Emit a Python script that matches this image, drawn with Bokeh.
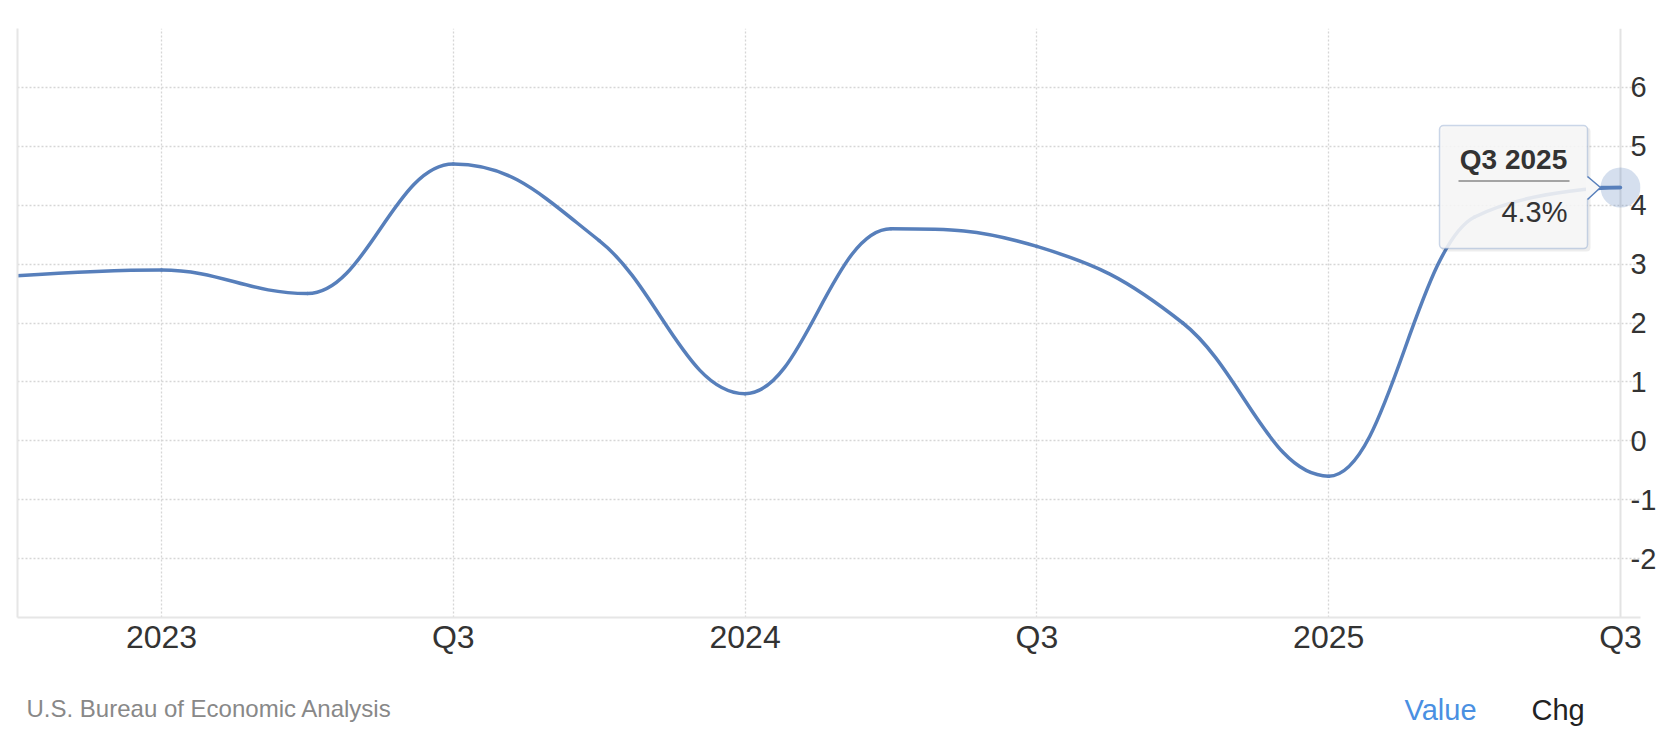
from bokeh.plotting import figure
from bokeh.layouts import column
from bokeh.models import (FixedTicker, LinearAxis, Range1d, Span, Label,
                          BoxAnnotation)
from bokeh.core.properties import value
from bokeh.embed import file_html
from bokeh.resources import INLINE

# ---------------- data ----------------
quarters = ["Q4 2022", "Q1 2023", "Q2 2023", "Q3 2023", "Q4 2023", "Q1 2024",
            "Q2 2024", "Q3 2024", "Q4 2024", "Q1 2025", "Q2 2025", "Q3 2025"]
gdp_growth = [2.8, 2.9, 2.5, 4.7, 3.4, 0.8, 3.6, 3.3, 2.0, -0.6, 3.8, 4.3]
x_tick_pos = [1, 3, 5, 7, 9, 11]
x_tick_labels = ["2023", "Q3", "2024", "Q3", "2025", "Q3"]
y_ticks = [-2, -1, 0, 1, 2, 3, 4, 5, 6]
y_grid_ticks = [-2, -1, 0, 1, 2, 3, 4, 5, 6, 7]
source_text = "U.S. Bureau of Economic Analysis"
footer_buttons = ["Value", "Chg"]
tooltip_value = "4.3%"

# ---------------- layout ----------------
W = 1664
H1 = 662
H2 = 73
FL, FT, FW, FH = 17, 28, 1623, 589
X0, X1 = 0.013, 11.137
Y0, Y1 = -3, 7
LINE = "#577fbb"
FONT = "Liberation Sans"
TXT_SHIFT = -11.5  # baseline correction (px)

xs = list(range(len(quarters)))

p = figure(width=W, height=H1, output_backend="svg", toolbar_location=None,
           x_range=Range1d(X0, X1), y_range=Range1d(Y0, Y1),
           y_axis_location="right", min_border_left=FL, min_border_top=FT,
           min_border_right=W - FL - FW, min_border_bottom=H1 - FT - FH)
p.outline_line_color = None
p.background_fill_color = "white"
p.border_fill_color = "white"

# axes
xa = p.xaxis[0]
xa.ticker = FixedTicker(ticks=x_tick_pos)
xa.major_label_overrides = {t: l for t, l in zip(x_tick_pos, x_tick_labels)}
xa.axis_line_color = "#e6e6e6"
xa.axis_line_width = 2
xa.major_tick_line_color = None
xa.minor_tick_line_color = None
xa.major_tick_out = 0
xa.major_tick_in = 0
xa.major_label_standoff = 1
xa.major_label_text_font = FONT
xa.major_label_text_font_size = "32px"
xa.major_label_text_color = "#333333"

ya = p.yaxis[0]
ya.ticker = FixedTicker(ticks=y_ticks)
ya.major_label_overrides = {t: str(t) for t in y_ticks}
ya.axis_line_color = None
ya.major_tick_line_color = None
ya.minor_tick_line_color = None
ya.major_tick_out = 0
ya.major_tick_in = 0
ya.major_label_standoff = -10
ya.major_label_text_font = FONT
ya.major_label_text_font_size = "29px"
ya.major_label_text_color = "#333333"

la = LinearAxis(ticker=FixedTicker(ticks=[]), axis_line_color="#e6e6e6",
                axis_line_width=2, major_tick_line_color=None,
                minor_tick_line_color=None, major_label_text_font_size="0px",
                major_tick_out=0, major_tick_in=0, major_label_standoff=0)
p.add_layout(la, "left")

# grids
p.xgrid.ticker = FixedTicker(ticks=x_tick_pos[:-1])
p.ygrid.ticker = FixedTicker(ticks=y_grid_ticks)
for g in (p.xgrid[0], p.ygrid[0]):
    g.grid_line_color = "#d6d6d6"
    g.grid_line_width = 1.3
    g.grid_line_dash = "2 2"

# crosshair at hovered point
p.add_layout(Span(location=xs[-1], dimension="height", line_color="#e3e3e3",
                  line_width=2, level="underlay"))

# ---------------- spline (Highcharts-style control points) ----------------
def spline_controls(xv, yv, smoothing=1.5):
    n = len(xv)
    denom = smoothing + 1
    lcx, lcy, rcx, rcy = list(xv), list(yv), list(xv), list(yv)
    for i in range(1, n - 1):
        px, py = xv[i], yv[i]
        lx, ly = xv[i - 1], yv[i - 1]
        nx, ny = xv[i + 1], yv[i + 1]
        lX = (smoothing * px + lx) / denom
        lY = (smoothing * py + ly) / denom
        rX = (smoothing * px + nx) / denom
        rY = (smoothing * py + ny) / denom
        corr = 0.0
        if rX != lX:
            corr = ((rY - lY) * (rX - px)) / (rX - lX) + py - rY
        lY += corr
        rY += corr
        if lY > ly and lY > py:
            lY = max(ly, py)
            rY = 2 * py - lY
        elif lY < ly and lY < py:
            lY = min(ly, py)
            rY = 2 * py - lY
        if rY > ny and rY > py:
            rY = max(ny, py)
            lY = 2 * py - rY
        elif rY < ny and rY < py:
            rY = min(ny, py)
            lY = 2 * py - rY
        lcx[i], lcy[i], rcx[i], rcy[i] = lX, lY, rX, rY
    return lcx, lcy, rcx, rcy

lcx, lcy, rcx, rcy = spline_controls(xs, gdp_growth)
p.bezier(x0=xs[:-1], y0=gdp_growth[:-1], x1=xs[1:], y1=gdp_growth[1:],
         cx0=rcx[:-1], cy0=rcy[:-1], cx1=lcx[1:], cy1=lcy[1:],
         line_color=LINE, line_width=3.5, line_cap="round")

# hover halo
p.scatter([xs[-1]], [gdp_growth[-1]], size=40, fill_color=LINE,
          fill_alpha=0.25, line_color=None)

# ---------------- tooltip ----------------
ppx = FW / (X1 - X0)
ppy = FH / (Y1 - Y0)
ax, ay = xs[-1], gdp_growth[-1]

def tx(d):
    return ax + d / ppx

def ty(d):
    return ay - d / ppy

p.add_layout(BoxAnnotation(left=tx(-179), right=tx(-30), top=ty(-60),
                           bottom=ty(64), fill_color="black", fill_alpha=0.07,
                           line_color=None, border_radius=4))
p.add_layout(BoxAnnotation(left=tx(-181), right=tx(-33), top=ty(-62),
                           bottom=ty(61), fill_color="#f7f7f7", fill_alpha=0.88,
                           line_color=LINE, line_width=1.5, border_radius=4))
p.patch([tx(-34.5), tx(-20), tx(-34.5)], [ty(-11), ty(0), ty(12)],
        fill_color="#f7f7f7", fill_alpha=1.0, line_color=None, level="overlay")
p.line([tx(-33), tx(-20), tx(-33)], [ty(-11), ty(0), ty(12)],
       line_color=LINE, line_width=1.5, level="overlay")
p.line([tx(-20), tx(0)], [ty(0), ty(0)], line_color=LINE, line_width=3.5,
       level="overlay")
p.add_layout(Label(x=tx(-107), y=ty(-17 + TXT_SHIFT), text=quarters[-1],
                   text_font=FONT, text_font_size="28px", text_font_style="bold",
                   text_color="#333333", text_align="center",
                   text_baseline="alphabetic"))
p.segment(x0=[tx(-162)], y0=[ty(-6.5)], x1=[tx(-51)], y1=[ty(-6.5)],
          line_color="#888888", line_width=1.5, level="overlay")
p.add_layout(Label(x=tx(-53), y=ty(36 + TXT_SHIFT), text=tooltip_value,
                   text_font=FONT, text_font_size="29px",
                   text_color="#333333", text_align="right",
                   text_baseline="alphabetic"))

# ---------------- footer ----------------
f = figure(width=W, height=H2, output_backend="svg", toolbar_location=None,
           x_range=Range1d(FL, FL + FW), y_range=Range1d(H2, 0),
           x_axis_type=None, y_axis_type=None,
           min_border_left=FL, min_border_right=W - FL - FW,
           min_border_top=0, min_border_bottom=0)
f.outline_line_color = None
f.grid.visible = False
f.background_fill_color = "white"
f.border_fill_color = "white"
base = 718 - H1
f.text(x=[26], y=[base - 10.5], text=[source_text],
       text_font=value(FONT), text_font_size="24px", text_color="#888888",
       text_baseline="alphabetic", text_align="left")
f.text(x=[1404], y=[base - 8.5], text=[footer_buttons[0]],
       text_font=value(FONT), text_font_size="29px", text_color="#4a90e2",
       text_baseline="alphabetic", text_align="left")
f.text(x=[1531], y=[base - 8.5], text=[footer_buttons[1]],
       text_font=value(FONT), text_font_size="29px", text_color="#222222",
       text_baseline="alphabetic", text_align="left")

layout = column(p, f, spacing=0)
open("out.html", "w").write(file_html(layout, INLINE))
